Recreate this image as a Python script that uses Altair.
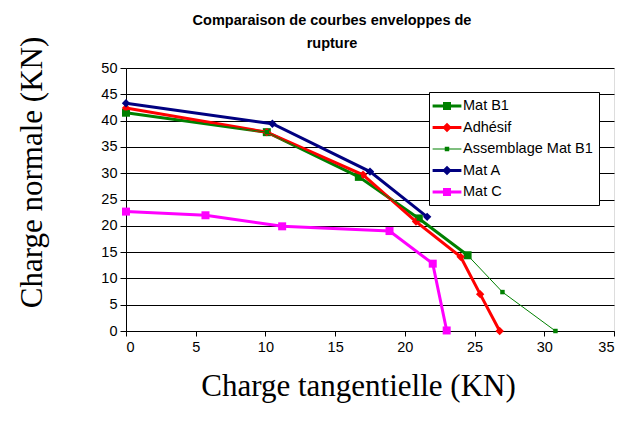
import altair as alt
import pandas as pd

# ---- data ----
series_names = ["Mat B1", "Adhésif", "Assemblage Mat B1", "Mat A", "Mat C"]
series_colors = ["#008000", "#FF0000", "#008000", "#000080", "#FF00FF"]

matb1_x = [0, 10.1, 16.7, 21.0, 24.5]
matb1_y = [41.5, 37.8, 29.3, 21.4, 14.4]

adhesif_x = [0, 10.1, 17.0, 20.8, 24.0, 25.4, 26.8]
adhesif_y = [42.4, 37.8, 29.7, 20.8, 14.1, 7.0, 0.0]

assemblage_x = [0, 10.1, 16.7, 21.0, 24.5, 27.0, 30.8]
assemblage_y = [41.5, 37.8, 29.3, 21.4, 14.4, 7.4, 0.0]

mata_x = [0, 10.5, 17.5, 21.6]
mata_y = [43.3, 39.4, 30.3, 21.7]

matc_x = [0, 5.7, 11.2, 18.9, 22.0, 23.0]
matc_y = [22.7, 22.0, 19.9, 19.0, 12.8, 0.1]

x_ticks = [0, 5, 10, 15, 20, 25, 30, 35]
y_ticks = [0, 5, 10, 15, 20, 25, 30, 35, 40, 45, 50]

series_data = [
    ("Mat B1", matb1_x, matb1_y),
    ("Adhésif", adhesif_x, adhesif_y),
    ("Assemblage Mat B1", assemblage_x, assemblage_y),
    ("Mat A", mata_x, mata_y),
    ("Mat C", matc_x, matc_y),
]

# styling per series
line_width = {"Mat B1": 3, "Adhésif": 3, "Assemblage Mat B1": 1, "Mat A": 3, "Mat C": 3}
point_shape = {"Mat B1": "square", "Adhésif": "diamond", "Assemblage Mat B1": "square",
               "Mat A": "diamond", "Mat C": "square"}
point_size = {"Mat B1": 64, "Adhésif": 70, "Assemblage Mat B1": 20, "Mat A": 70, "Mat C": 64}
color_of = dict(zip(series_names, series_colors))

# legend symbols: line segment + marker (custom paths)
thick = "M-1.8,-0.19L1.8,-0.19L1.8,0.19L-1.8,0.19Z"
thin = "M-1.8,-0.07L1.8,-0.07L1.8,0.07L-1.8,0.07Z"
sq = "M-0.5,-0.5L0.5,-0.5L0.5,0.5L-0.5,0.5Z"
small_sq = "M-0.28,-0.28L0.28,-0.28L0.28,0.28L-0.28,0.28Z"
dia = "M0,-0.6L0.6,0L0,0.6L-0.6,0Z"
legend_shapes = [thick + sq, thick + dia, thin + small_sq, thick + dia, thick + sq]

xscale = alt.Scale(domain=[0, 35], nice=False, zero=False)
yscale = alt.Scale(domain=[0, 50], nice=False, zero=False)

xaxis = alt.Axis(
    values=x_ticks, title="Charge tangentielle (KN)", grid=False,
    titleFont="Liberation Serif", titleFontSize=31, titleFontWeight="normal",
    titleColor="black", titleX=232, titleY=64, titleBaseline="alphabetic",
    titleAlign="center",
    labelFont="Liberation Sans", labelFontSize=14.5, labelColor="black",
    labelPadding=4, tickSize=5, tickColor="black", domainColor="black",
)
yaxis = alt.Axis(
    values=y_ticks, title="Charge normale (KN)", grid=True, gridColor="black",
    gridWidth=1, titleFont="Liberation Serif", titleFontSize=31,
    titleFontWeight="normal", titleColor="black", titleX=-85, titleY=104,
    titleAngle=-90, titleAlign="center", titleBaseline="alphabetic",
    labelFont="Liberation Sans", labelFontSize=14.5, labelColor="black",
    labelPadding=3, tickSize=6, tickColor="black", domainColor="black",
)

layers = []
for name, xs, ys in series_data:
    df = pd.DataFrame({"x": xs, "y": ys, "series": name})
    base = alt.Chart(df).encode(
        x=alt.X("x:Q", scale=xscale, axis=xaxis),
        y=alt.Y("y:Q", scale=yscale, axis=yaxis),
    )
    layers.append(base.mark_line(color=color_of[name], strokeWidth=line_width[name]))
    layers.append(base.mark_point(filled=True, opacity=1, color=color_of[name],
                                  shape=point_shape[name], size=point_size[name]))

legend_props = dict(
    title=None, orient="none", legendX=303, legendY=24,
    fillColor="white", strokeColor="black",
    padding=6, symbolSize=256, symbolOpacity=1,
    symbolStrokeWidth=0, symbolOffset=4, labelOffset=8,
    labelFont="Liberation Sans", labelFontSize=14.5,
    labelColor="black", rowPadding=6.5, labelLimit=300,
)

legend_df = pd.DataFrame({"series": series_names})
legend_layer = alt.Chart(legend_df).mark_point(filled=True, opacity=0).encode(
    color=alt.Color("series:N", scale=alt.Scale(domain=series_names, range=series_colors),
                    legend=alt.Legend(**legend_props)),
    shape=alt.Shape("series:N", scale=alt.Scale(domain=series_names, range=legend_shapes),
                    legend=alt.Legend(**legend_props)),
)

chart = alt.layer(*layers, legend_layer).properties(
    width=488, height=263,
    title=alt.TitleParams(
        text=["Comparaison de courbes enveloppes de", "rupture"],
        font="Liberation Sans", fontSize=14.5, fontWeight="bold", color="black",
        anchor="middle", frame="group", dx=-38, dy=28, offset=13, lineHeight=23,
    ),
    autosize=alt.AutoSizeParams(type="none"),
    padding={"left": 118, "top": 60, "right": 8, "bottom": 80},
).configure_view(stroke="#808080", strokeWidth=1).configure(background="white")

chart.save("out.html", embed_options={"renderer": "svg", "actions": False})
